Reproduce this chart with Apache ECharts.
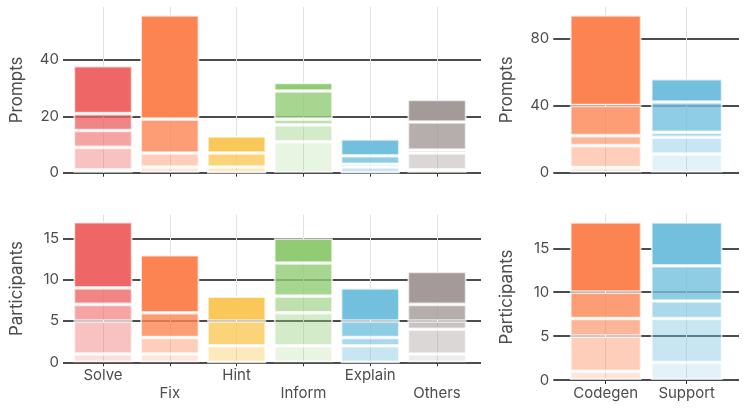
<!DOCTYPE html>
<html>
<head>
<meta charset="utf-8">
<script src="https://cdn.jsdelivr.net/npm/echarts@6/dist/echarts.min.js"></script>
<style>html,body{margin:0;padding:0;background:#fff}#c{width:747px;height:414px}</style>
</head>
<body>
<div id="c"></div>
<script>
// ---- data ----
const catsMain = ['Solve', 'Fix', 'Hint', 'Inform', 'Explain', 'Others'];
const catsSide = ['Codegen', 'Support'];
const yTicksPrompts = [0, 20, 40];
const yTicksPromptsSide = [0, 40, 80];
const yTicksPart = [0, 5, 10, 15];

// stacked levels, bottom (lightest) to top (darkest)
const promptsMainL1 = [1, 2, 0, 11, 0, 1];
const promptsMainL2 = [8, 5, 2, 6, 2, 6];
const promptsMainL3 = [6, 0, 0, 2, 1, 1];
const promptsMainL4 = [6, 12, 5, 10, 3, 10];
const promptsMainL5 = [17, 37, 6, 3, 6, 8];

const partMainL1 = [1, 1, 0, 2, 0, 1];
const partMainL2 = [4, 2, 2, 4, 2, 3];
const partMainL3 = [2, 0, 0, 2, 1, 1];
const partMainL4 = [2, 3, 3, 4, 2, 2];
const partMainL5 = [8, 7, 3, 3, 4, 4];

const promptsSideL1 = [3, 11];
const promptsSideL2 = [13, 10];
const promptsSideL3 = [6, 3];
const promptsSideL4 = [18, 18];
const promptsSideL5 = [54, 14];

const partSideL1 = [1, 2];
const partSideL2 = [4, 5];
const partSideL3 = [2, 2];
const partSideL4 = [3, 4];
const partSideL5 = [8, 5];

// ---- style ----
const colorsMain = ['#ee6666', '#fc8452', '#fac858', '#91cc75', '#73c0de', '#a39a99'];
const colorsSide = ['#fc8452', '#73c0de'];
const levelAlpha = [0.2, 0.4, 0.6, 0.8, 1];
const FONT = 'Inter';
const TXT = '#4d4d4d';

function rgba(hex, a) {
  const r = parseInt(hex.slice(1, 3), 16), g = parseInt(hex.slice(3, 5), 16), b = parseInt(hex.slice(5, 7), 16);
  return 'rgba(' + r + ',' + g + ',' + b + ',' + a + ')';
}

const panels = [
  { cats: catsMain, colors: colorsMain, levels: [promptsMainL1, promptsMainL2, promptsMainL3, promptsMainL4, promptsMainL5],
    ticks: yTicksPrompts, name: 'Prompts', labels: false, alt: false,
    A: { l: 59, r: 481, t: 7, b: 172.7 }, B: { l: 69.6, r: 470.4 } },
  { cats: catsSide, colors: colorsSide, levels: [promptsSideL1, promptsSideL2, promptsSideL3, promptsSideL4, promptsSideL5],
    ticks: yTicksPromptsSide, name: 'Prompts', labels: false, alt: false,
    A: { l: 553.3, r: 739, t: 7, b: 172.5 }, B: { l: 565.2, r: 727.2 } },
  { cats: catsMain, colors: colorsMain, levels: [partMainL1, partMainL2, partMainL3, partMainL4, partMainL5],
    ticks: yTicksPart, name: 'Participants', labels: true, alt: true,
    A: { l: 59, r: 481, t: 214.7, b: 362.3 }, B: { l: 69.6, r: 470.4 } },
  { cats: catsSide, colors: colorsSide, levels: [partSideL1, partSideL2, partSideL3, partSideL4, partSideL5],
    ticks: yTicksPart, name: 'Participants', labels: true, alt: false,
    A: { l: 553.3, r: 739, t: 214, b: 380 }, B: { l: 565.2, r: 727.2 } }
];

const option = { animation: false, grid: [], xAxis: [], yAxis: [], series: [] };

panels.forEach((p, pi) => {
  const totals = p.cats.map((_, i) => p.levels.reduce((s, L) => s + L[i], 0));
  const ymax = Math.max(...totals) * 1.05;
  const interval = p.ticks[1] - p.ticks[0];
  const h = p.A.b - p.A.t;
  const gA = option.grid.length;
  option.grid.push({ left: p.A.l, top: p.A.t, width: p.A.r - p.A.l, height: h });
  const gB = option.grid.length;
  option.grid.push({ left: p.B.l, top: p.A.t, width: p.B.r - p.B.l, height: h });

  option.xAxis.push({ gridIndex: gA, type: 'value', min: 0, max: 1, show: false });
  const xMain = option.xAxis.length;
  option.xAxis.push({
    gridIndex: gB, type: 'category', data: p.cats, boundaryGap: true,
    axisLine: { show: false },
    axisTick: { show: true, alignWithLabel: true, length: 4, lineStyle: { color: '#333', width: 1 } },
    axisLabel: {
      show: p.labels, interval: 0, margin: 4, color: TXT, fontFamily: FONT, fontSize: 15, lineHeight: 18,
      formatter: (v, i) => (p.alt && i % 2 === 1) ? '\n' + v : v
    },
    splitLine: { show: false }
  });
  option.xAxis.push({
    gridIndex: gB, type: 'category', data: p.cats, boundaryGap: true,
    axisLine: { show: false },
    axisTick: { show: true, alignWithLabel: true, inside: true, length: h, lineStyle: { color: '#e2e2e2', width: 1 } },
    axisLabel: { show: false }, splitLine: { show: false }
  });

  option.yAxis.push({
    gridIndex: gA, type: 'value', min: 0, max: ymax, interval: interval,
    axisLine: { show: false }, axisTick: { show: false },
    axisLabel: { margin: 4, color: TXT, fontFamily: FONT, fontSize: 15, showMaxLabel: false },
    splitLine: { show: true, showMaxLine: false, lineStyle: { color: '#111', width: 1.5 } },
    name: p.name, nameLocation: 'middle', nameGap: 38,
    nameTextStyle: { color: TXT, fontFamily: FONT, fontSize: 17 }
  });
  const yB = option.yAxis.length;
  option.yAxis.push({ gridIndex: gB, type: 'value', min: 0, max: ymax, show: false });

  p.levels.forEach((L, li) => {
    option.series.push({
      type: 'bar', xAxisIndex: xMain, yAxisIndex: yB, stack: 'p' + pi,
      barCategoryGap: '11.5%',
      itemStyle: { borderColor: 'rgba(255,255,255,0.7)', borderWidth: 1.8 },
      emphasis: { disabled: true },
      data: L.map((v, i) => ({ value: v, itemStyle: { color: rgba(p.colors[i], levelAlpha[li]) } }))
    });
  });
});

const chart = echarts.init(document.getElementById('c'), null, { renderer: 'canvas' });
chart.setOption(option);
</script>
</body>
</html>
